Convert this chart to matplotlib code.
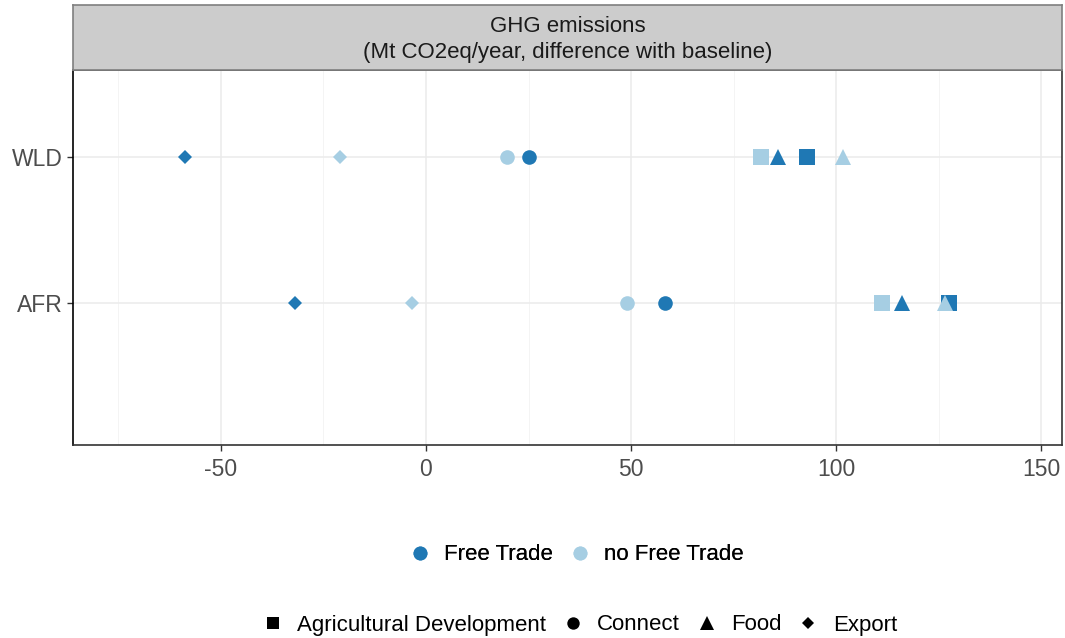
import numpy as np
import matplotlib.pyplot as plt
from matplotlib.lines import Line2D

plt.rcParams['font.family'] = ['Liberation Sans', 'DejaVu Sans']
plt.rcParams['axes.unicode_minus'] = False

regions = ['AFR', 'WLD']
scenarios = ['Agricultural Development', 'Connect', 'Food', 'Export']
trade = ['Free Trade', 'no Free Trade']

# GHG emissions difference with baseline (Mt CO2eq/year), rows = AFR, WLD
free_trade = {
    'Agricultural Development': [127.4, 92.9],
    'Connect': [58.2, 25.0],
    'Food': [115.9, 85.8],
    'Export': [-31.8, -58.6],
}
no_free_trade = {
    'Agricultural Development': [111.2, 81.7],
    'Connect': [48.9, 19.8],
    'Food': [126.6, 101.7],
    'Export': [-3.4, -21.0],
}

colors = {'Free Trade': '#1F78B4', 'no Free Trade': '#A6CEE3'}
markers = {'Agricultural Development': ('s', 11),
           'Connect': ('o', 10.5),
           'Food': ('^', 12),
           'Export': ('D', 7)}

W, H = 1065, 638
fig = plt.figure(figsize=(W / 100, H / 100), dpi=100)

left, right, top, bottom = 73, 1062, 70, 445
ax = fig.add_axes([left / W, 1 - bottom / H, (right - left) / W, (bottom - top) / H])
strip = fig.add_axes([left / W, 1 - top / H, (right - left) / W, (top - 5) / H])

ypos = np.arange(1, len(regions) + 1)
for name, data in [('Free Trade', free_trade), ('no Free Trade', no_free_trade)]:
    for sc in scenarios:
        m, ms = markers[sc]
        ax.plot(data[sc], ypos, linestyle='none', marker=m, markersize=ms,
                color=colors[name], markeredgewidth=0, zorder=3)

ax.set_xlim(-86, 155)
ax.set_ylim(0.02, 2.6)
ax.set_xticks([-50, 0, 50, 100, 150])
ax.set_xticks([-75, -25, 25, 75, 125], minor=True)
ax.set_yticks(ypos)
ax.set_yticklabels(regions)
ax.grid(True, which='major', color='#EBEBEB', linewidth=1.1, zorder=0)
ax.grid(True, which='minor', axis='x', color='#F3F3F3', linewidth=0.6, zorder=0)
ax.tick_params(axis='both', which='major', labelsize=16.5, labelcolor='#4D4D4D',
               color='#333333', length=4, width=1)
ax.tick_params(axis='x', which='major', pad=5)
ax.tick_params(axis='x', which='minor', length=0)
for s in ax.spines.values():
    s.set_color('#333333')
    s.set_linewidth(1.2)
ax.spines['left'].set_color('black')

strip.set_facecolor('#CCCCCC')
strip.set_xticks([])
strip.set_yticks([])
for s in strip.spines.values():
    s.set_color('#7F7F7F')
    s.set_linewidth(1.2)
strip.text(0.5, 0.47, 'GHG emissions\n(Mt CO2eq/year, difference with baseline)',
           ha='center', va='center', fontsize=16, color='#1A1A1A',
           linespacing=1.3, transform=strip.transAxes)

trade_handles = [Line2D([], [], linestyle='none', marker='o', markersize=10,
                        color=colors[t], markeredgewidth=0) for t in trade]
leg1 = fig.legend(trade_handles, trade, loc='center', bbox_to_anchor=(0.54, 1 - 555 / H),
                  ncol=2, frameon=False, fontsize=16, handletextpad=0.5,
                  columnspacing=0.6, handlelength=1.2)
fig.add_artist(leg1)

sc_handles = [Line2D([], [], linestyle='none', marker=markers[s][0],
                     markersize=markers[s][1] * 0.85, color='black',
                     markeredgewidth=0) for s in scenarios]
fig.legend(sc_handles, scenarios, loc='center', bbox_to_anchor=(0.543, 1 - 625 / H),
           ncol=4, frameon=False, fontsize=16, handletextpad=0.5,
           columnspacing=0.6, handlelength=1.2)

fig.savefig('out.png', dpi=100)
